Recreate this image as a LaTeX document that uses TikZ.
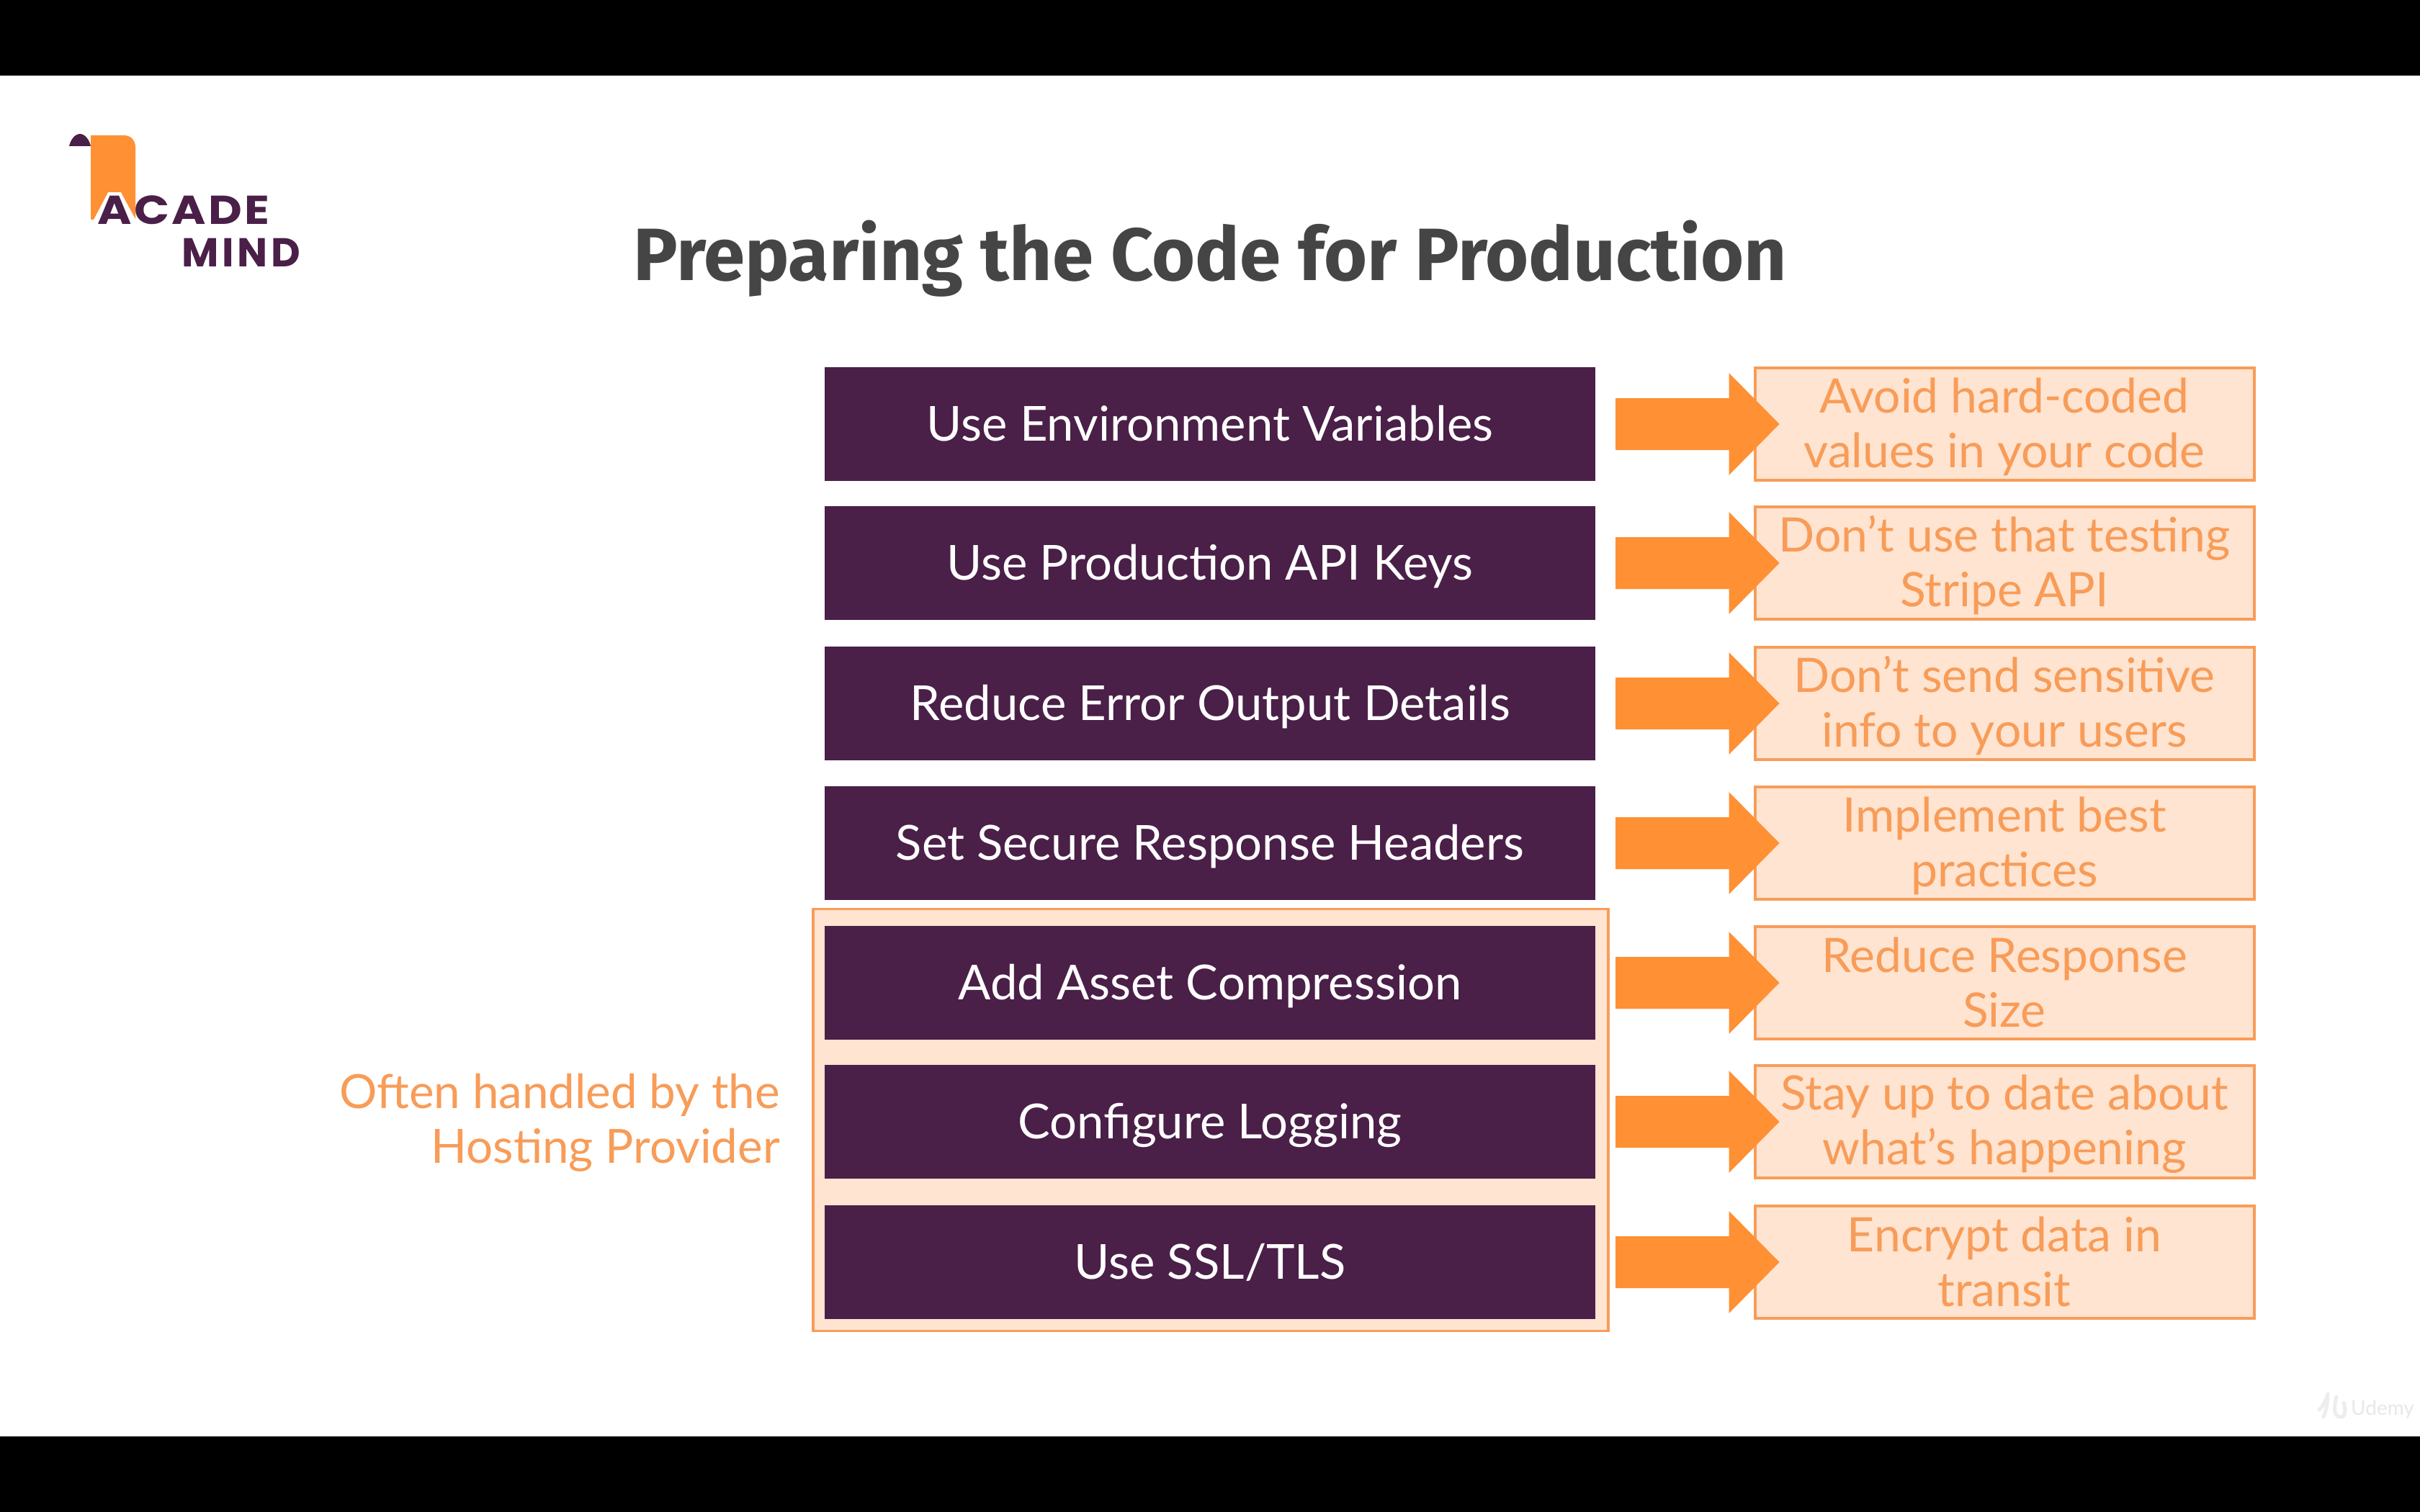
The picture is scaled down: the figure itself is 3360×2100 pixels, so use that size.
\documentclass[tikz,border=0pt]{standalone}
\usepackage{fontspec}
\usetikzlibrary{calc}
\setmainfont{Lato}
\newfontfamily\titlefont{Fira Sans}[UprightFont=* Bold]
\newfontfamily\logofont{Poppins}[UprightFont=* Bold]
\newfontfamily\logowide{Poppins}[UprightFont=* Bold,FakeStretch=1.15]
\definecolor{plum}{HTML}{4A1F48}
\definecolor{amber}{HTML}{FF9033}
\definecolor{peach}{HTML}{FEE4D1}
\definecolor{edgeamber}{HTML}{F89C58}
\definecolor{inkgrey}{HTML}{454545}
\tikzset{
  x=1pt,y=-1pt,
  leftbox/.style={fill=plum,text=white,minimum width=1070pt,minimum height=158pt,inner sep=0pt,align=center,text height=56pt,text depth=10pt,font=\fontsize{67}{76}\selectfont},
  rightbox/.style={fill=peach,draw=edgeamber,line width=4pt,text=edgeamber,minimum width=693pt,minimum height=156pt,inner sep=0pt,align=center,font=\fontsize{66}{76}\selectfont},
  blockarrow/.style={fill=amber,draw=none},
  grouprect/.style={fill=peach,draw=edgeamber,line width=3.5pt},
  sidelabel/.style={text=edgeamber,align=right,anchor=east,inner sep=0pt,font=\fontsize{65.5}{76}\selectfont},
  titlelabel/.style={text=inkgrey,inner sep=0pt,font=\titlefont\fontsize{103}{112}\selectfont},
  logotext/.style={text=plum,inner sep=0pt,anchor=west,font=\logofont\fontsize{56}{60}\selectfont},
}
\newcommand{\twolines}[2]{\rule{0pt}{56pt}#1\\#2\rule[-10pt]{0pt}{10pt}}
\newcommand{\blockarrowfrom}[2]{%
  \path[blockarrow] ($(#1.east)+(28,-36)$) -- ($(#2.west)+(-34,-36)$) -- ($(#2.west)+(-34,-71)$)
    -- ($(#2.west)+(36,0)$) -- ($(#2.west)+(-34,71)$) -- ($(#2.west)+(-34,36)$) -- ($(#1.east)+(28,36)$) -- cycle;}
\begin{document}
\begin{tikzpicture}
\useasboundingbox (0,0) rectangle (3360,2100);
\fill[white] (0,0) rectangle (3360,2100);
\fill[black] (0,0) rectangle (3360,105);
\fill[black] (0,1995) rectangle (3360,2100);
% logo
\fill[amber] (126,188) -- (172,188) .. controls (182,188) and (188,195) .. (188,205) -- (188,304) -- (168,267) -- (150,267) -- (130,305) -- (126,305) -- cycle;
\fill[plum] (96,203) .. controls (98,194) and (104,186) .. (111,186) .. controls (118,186) and (124,194) .. (126,203) -- cycle;
\node[logotext] (acade) at (135,292) {\logowide A\kern 3.5pt C\kern 3.5pt A\kern 3.5pt D\kern 3.5pt E};
\node[logotext] (mind) at (252,351) {M\kern 4.7pt I\kern 4.7pt N\kern 4.7pt D};
% title
\node[titlelabel] (title) at (1680,359) {Preparing the Code for Production};
% group
\node[grouprect,minimum width=1104pt,minimum height=586pt,inner sep=0pt] (grp) at (1681,1555.5) {};
% left column
\node[leftbox] (l1) at (1680,589) {Use Environment Variables};
\node[leftbox] (l2) at (1680,782) {Use Production API Keys};
\node[leftbox] (l3) at (1680,977) {Reduce Error Output Details};
\node[leftbox] (l4) at (1680,1171) {Set Secure Response Headers};
\node[leftbox] (l5) at (1680,1365) {Add Asset Compression};
\node[leftbox] (l6) at (1680,1558) {Configure Logging};
\node[leftbox] (l7) at (1680,1753) {Use SSL/TLS};
% right column
\node[rightbox] (r1) at (2783,589) {\twolines{Avoid hard-coded}{values in your code}};
\node[rightbox] (r2) at (2783,782) {\twolines{Don’t use that testing}{Stripe API}};
\node[rightbox] (r3) at (2783,977) {\twolines{Don’t send sensitive}{info to your users}};
\node[rightbox] (r4) at (2783,1171) {\twolines{Implement best}{practices}};
\node[rightbox] (r5) at (2783,1365) {\twolines{Reduce Response}{Size}};
\node[rightbox] (r6) at (2783,1558) {\twolines{Stay up to date about}{what’s happening}};
\node[rightbox] (r7) at (2783,1753) {\twolines{Encrypt data in}{transit}};
% arrows
\blockarrowfrom{l1}{r1}
\blockarrowfrom{l2}{r2}
\blockarrowfrom{l3}{r3}
\blockarrowfrom{l4}{r4}
\blockarrowfrom{l5}{r5}
\blockarrowfrom{l6}{r6}
\blockarrowfrom{l7}{r7}
% side label
\node[sidelabel] (side) at (1083,1555) {\twolines{Often handled by the}{Hosting Provider}};
% watermark
\draw[black!7,line width=5pt,line cap=round] (3220,1958) .. controls (3228,1950) and (3230,1942) .. (3232,1936) (3232,1936) .. controls (3232,1950) and (3228,1964) .. (3226,1968) (3244,1940) .. controls (3240,1955) and (3240,1968) .. (3250,1968) .. controls (3258,1968) and (3256,1955) .. (3254,1948);
\node[text=black!9,inner sep=0pt,font=\fontsize{28}{32}\selectfont] (udemy) at (3308,1958) {Udemy};
\end{tikzpicture}
\end{document}
